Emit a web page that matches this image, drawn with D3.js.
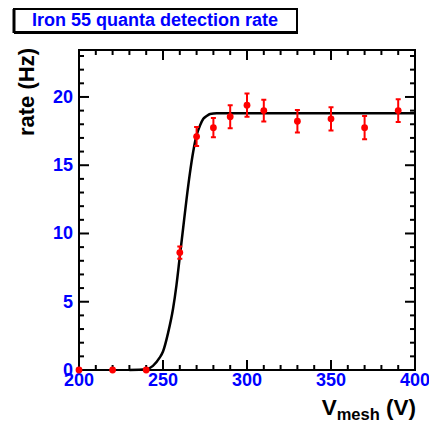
<!DOCTYPE html>
<html>
<head>
<meta charset="utf-8">
<script src="https://cdn.jsdelivr.net/npm/d3@7"></script>
<style>
  body { margin: 0; background: #fff; }
  text { font-family: "Liberation Sans", Arial, sans-serif; font-weight: bold; }
</style>
</head>
<body>
<svg id="chart" width="429" height="423"></svg>
<script>
// measured points
const voltages = [200, 220, 240, 260, 270, 280, 290, 300, 310, 330, 350, 370, 390]
const rates    = [0, 0, 0, 8.6, 17.1, 17.75, 18.55, 19.4, 19.0, 18.22, 18.4, 17.75, 19.0]
const rate_err = [0, 0, 0, 0.45, 0.7, 0.7, 0.85, 0.85, 0.8, 0.82, 0.85, 0.85, 0.83]

// fitted curve
const fit_x = [230, 240, 244, 248, 250, 253, 256, 258, 260, 262, 264, 266, 268, 270, 272, 274, 276, 278, 282, 400]
const fit_y = [0, 0.05, 0.3, 0.9, 1.35, 2.7, 4.5, 6.2, 8.3, 10.4, 12.5, 14.4, 16.0, 17.2, 17.9, 18.4, 18.6, 18.75, 18.8, 18.8]

const x_ticks = [200, 250, 300, 350, 400]
const y_ticks = [0, 5, 10, 15, 20]

const title = 'Iron 55 quanta detection rate'

const svg = d3.select('#chart')
const m_left = 79, m_right = 415, m_top = 50, m_bottom = 370

const x = d3.scaleLinear().domain([200, 400]).range([m_left, m_right])
const y = d3.scaleLinear().domain([0, 23.44]).range([m_bottom, m_top])

// ticks on all four sides, pointing inwards
const minor_x = d3.range(200, 401, 10)
const minor_y = d3.range(0, 24, 1)

function tick_lines(g, vals, is_x, pos, dir) {
  g.selectAll(null)
    .data(vals)
    .enter()
    .append('line')
    .attr('stroke', '#000')
    .attr('stroke-width', 2)
    .each(function(v) {
      const len = (is_x ? v % 50 === 0 : v % 5 === 0) ? 10 : 5
      const sel = d3.select(this)
      if(is_x)
        sel.attr('x1', x(v)).attr('x2', x(v)).attr('y1', pos).attr('y2', pos + dir*len)
      else
        sel.attr('y1', y(v)).attr('y2', y(v)).attr('x1', pos).attr('x2', pos + dir*len)
    })
}

const axes = svg.append('g')
tick_lines(axes, minor_x, true, m_bottom, -1)
tick_lines(axes, minor_x, true, m_top, 1)
tick_lines(axes, minor_y, false, m_left, 1)
tick_lines(axes, minor_y, false, m_right, -1)

axes.append('rect')
  .attr('x', m_left).attr('y', m_top)
  .attr('width', m_right-m_left).attr('height', m_bottom-m_top)
  .attr('fill', 'none').attr('stroke', '#000').attr('stroke-width', 2)

// tick labels
svg.selectAll('.xlab')
  .data(x_ticks)
  .enter()
  .append('text')
  .attr('class', 'xlab')
  .attr('x', (d)=> x(d))
  .attr('y', 386)
  .attr('text-anchor', 'middle')
  .attr('fill', '#0000ff')
  .attr('font-size', 18)
  .text((d)=> d)

svg.selectAll('.ylab')
  .data(y_ticks)
  .enter()
  .append('text')
  .attr('class', 'ylab')
  .attr('x', 73)
  .attr('y', (d)=> y(d) + 6)
  .attr('text-anchor', 'end')
  .attr('fill', '#0000ff')
  .attr('font-size', 18)
  .text((d)=> d)

// axis titles
svg.append('text')
  .attr('transform', 'translate(34,48) rotate(-90)')
  .attr('text-anchor', 'end')
  .attr('font-size', 22)
  .attr('fill', '#000')
  .text('rate (Hz)')

const xt = svg.append('text')
  .attr('x', 416)
  .attr('y', 415)
  .attr('text-anchor', 'end')
  .attr('font-size', 22.5)
  .attr('fill', '#000')
xt.append('tspan').text('V')
xt.append('tspan').attr('font-size', 16.5).attr('dy', 5).text('mesh')
xt.append('tspan').attr('dy', -5).text(' (V)')

// fit curve
const line = d3.line()
  .x((d)=> x(d[0]))
  .y((d)=> y(d[1]))
  .curve(d3.curveMonotoneX)

svg.append('path')
  .datum(d3.zip(fit_x, fit_y))
  .attr('d', line)
  .attr('fill', 'none')
  .attr('stroke', '#000')
  .attr('stroke-width', 2.5)

// data points with error bars
const pts = d3.zip(voltages, rates, rate_err)
const bars = svg.append('g').attr('stroke', '#ff0000').attr('stroke-width', 2)
bars.selectAll('.err')
  .data(pts.filter((d)=> d[2] > 0))
  .enter()
  .append('path')
  .attr('class', 'err')
  .attr('fill', 'none')
  .attr('d', (d)=> {
    const cx = x(d[0]), y1 = y(d[1] + d[2]), y2 = y(d[1] - d[2])
    return `M ${cx} ${y1} L ${cx} ${y2} M ${cx-2.5} ${y1} L ${cx+2.5} ${y1} M ${cx-2.5} ${y2} L ${cx+2.5} ${y2}`
  })

svg.selectAll('.pt')
  .data(pts)
  .enter()
  .append('circle')
  .attr('class', 'pt')
  .attr('cx', (d)=> x(d[0]))
  .attr('cy', (d)=> y(d[1]))
  .attr('r', 3.4)
  .attr('fill', '#ff0000')

// title box
svg.append('rect')
  .attr('x', 14).attr('y', 9).attr('width', 283).attr('height', 23)
  .attr('fill', '#fff').attr('stroke', '#000').attr('stroke-width', 2)
svg.append('line')
  .attr('x1', 14).attr('x2', 298).attr('y1', 33).attr('y2', 33)
  .attr('stroke', '#000').attr('stroke-width', 2)
svg.append('line')
  .attr('x1', 14).attr('x2', 14).attr('y1', 9).attr('y2', 33)
  .attr('stroke', '#000').attr('stroke-width', 3)
svg.append('text')
  .attr('x', 155)
  .attr('y', 26)
  .attr('text-anchor', 'middle')
  .attr('font-size', 18)
  .attr('fill', '#0000ff')
  .text(title)
</script>
</body>
</html>
